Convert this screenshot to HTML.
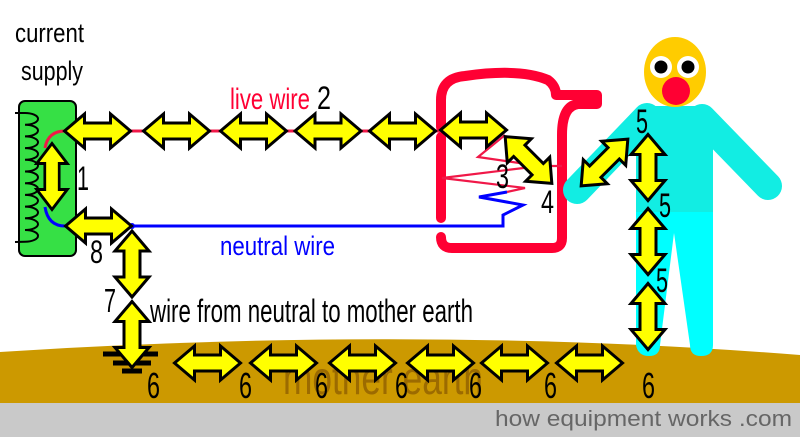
<!DOCTYPE html>
<html>
<head>
<meta charset="utf-8">
<style>
  html, body { margin:0; padding:0; background:#fff; }
  svg { display:block; }
  text { font-family: "Liberation Sans Narrow", "Liberation Sans", sans-serif; }
</style>
</head>
<body>
<svg width="800" height="437" viewBox="0 0 800 437" xmlns="http://www.w3.org/2000/svg">
  <defs>
    <path id="a" d="M-33,0 L-13,-17 L-13,-8 L13,-8 L13,-17 L33,0 L13,17 L13,8 L-13,8 L-13,17 Z" fill="#FFFF00" stroke="#000" stroke-width="3" stroke-linejoin="miter"/>
  </defs>

  <rect x="0" y="0" width="800" height="437" fill="#fff"/>

  <!-- earth -->
  <path d="M0,352 Q420,325 800,355 L800,404 L0,404 Z" fill="#CC9900"/>
  <rect x="0" y="403" width="800" height="34" fill="#C9C9C9"/>
  <text x="283" y="394" font-size="46" fill="#9C6B00" textLength="200" lengthAdjust="spacingAndGlyphs">mother earth</text>
  <text x="495" y="426" font-size="22" fill="#666" style="font-family:'Liberation Sans',sans-serif" textLength="297" lengthAdjust="spacingAndGlyphs">how equipment works .com</text>

  <!-- kettle -->
  <path d="M441,127 L441,100 Q441,78 465,76 Q520,68 548,80 Q556,86 556,95 L597,95 L597,104 L578,104 Q562,106 562,135 L562,238 Q562,248 552,248 L452,248 Q441,248 441,237" fill="none" stroke="#FF0033" stroke-width="10" stroke-linecap="round" stroke-linejoin="round"/>
  <line x1="441" y1="137" x2="441" y2="218" stroke="#FF0033" stroke-width="10" stroke-linecap="round"/>

  <!-- heating element zigzag -->
  <path d="M505,135 L478,157 L540,166 L442,178 L525,188 L507,192" fill="none" stroke="#F01848" stroke-width="2.2"/>
  <line x1="540" y1="166" x2="562" y2="166" stroke="#F01848" stroke-width="2.2"/>
  <path d="M507,192 L479,197 L523,205 L503,215 L503,226 L130,226" fill="none" stroke="#0000FF" stroke-width="3"/>
  <circle cx="132" cy="226" r="3" fill="#0000FF"/>

  <!-- live wire -->
  <line x1="65" y1="131" x2="440" y2="131" stroke="#F01848" stroke-width="3"/>

  <!-- supply box -->
  <rect x="19" y="101" width="57" height="155" rx="6" ry="6" fill="#36E045" stroke="#000" stroke-width="2"/>
  <path d="M15,113 L25,113 a13,5.85 0 0 1 0,11.7 a13,5.85 0 0 1 0,11.7 a13,5.85 0 0 1 0,11.7 a13,5.85 0 0 1 0,11.7 a13,5.85 0 0 1 0,11.7 a13,5.85 0 0 1 0,11.7 a13,5.85 0 0 1 0,11.7 a13,5.85 0 0 1 0,11.7 a13,5.85 0 0 1 0,11.7 a13,5.85 0 0 1 0,11.7 a13,5.85 0 0 1 0,11.7 L15,242" fill="none" stroke="#000" stroke-width="2"/>
  <path d="M45,148 Q48,131 65,131" fill="none" stroke="#F01848" stroke-width="3"/>
  <path d="M45,207 Q48,226 65,226" fill="none" stroke="#0000FF" stroke-width="3"/>

  <!-- person -->
  <line x1="647" y1="117" x2="577" y2="190" stroke="#12EDE3" stroke-width="28" stroke-linecap="round"/>
  <line x1="702" y1="118" x2="768" y2="186" stroke="#12EDE3" stroke-width="28" stroke-linecap="round"/>
  <path d="M636,205 L713,205 L713,345 Q713,356 701,356 Q690,356 690,345 L674,233 L660,345 Q660,356 649,356 Q638,356 636,345 Z" fill="#00FFFF"/>
  <path d="M636,116 Q636,106 646,106 L703,106 Q713,106 713,116 L713,212 L636,212 Z" fill="#12EDE3"/>
  <ellipse cx="675" cy="72" rx="31" ry="35" fill="#FFCC00"/>
  <circle cx="661" cy="67" r="11" fill="#fff"/>
  <circle cx="688" cy="67" r="11" fill="#fff"/>
  <circle cx="661" cy="67" r="6.5" fill="#000"/>
  <circle cx="688" cy="67" r="6.5" fill="#000"/>
  <circle cx="676" cy="91" r="14" fill="#FF0033"/>

  <!-- ground symbol -->
  <rect x="103" y="351.5" width="55" height="5" fill="#000"/>
  <rect x="113" y="360.5" width="38" height="5" fill="#000"/>
  <rect x="122" y="368.5" width="20" height="5" fill="#000"/>

  <!-- arrows: live row -->
  <use href="#a" transform="translate(97.5,131)"/>
  <use href="#a" transform="translate(176.5,131)"/>
  <use href="#a" transform="translate(253.5,131)"/>
  <use href="#a" transform="translate(328,131)"/>
  <use href="#a" transform="translate(402.5,131)"/>
  <use href="#a" transform="translate(473.5,130)"/>
  <!-- diagonals -->
  <use href="#a" transform="translate(528.5,160) rotate(45)"/>
  <use href="#a" transform="translate(604.5,162.5) rotate(-45)"/>
  <!-- body -->
  <use href="#a" transform="translate(648,167.5) rotate(90)"/>
  <use href="#a" transform="translate(648,241.5) rotate(90)"/>
  <use href="#a" transform="translate(648,316.5) rotate(90)"/>
  <!-- supply -->
  <use href="#a" transform="translate(52,176.5) rotate(90) scale(1,0.9)"/>
  <use href="#a" transform="translate(98.5,226)"/>
  <!-- neutral to earth -->
  <use href="#a" transform="translate(132,264) rotate(90)"/>
  <use href="#a" transform="translate(132,334.5) rotate(90)"/>
  <!-- earth -->
  <use href="#a" transform="translate(207.5,363)"/>
  <use href="#a" transform="translate(283.5,363)"/>
  <use href="#a" transform="translate(362.5,363)"/>
  <use href="#a" transform="translate(440.5,363)"/>
  <use href="#a" transform="translate(514.5,363)"/>
  <use href="#a" transform="translate(589.5,363)"/>

  <!-- labels -->
  <text x="15" y="42" font-size="27" fill="#000" textLength="69" lengthAdjust="spacingAndGlyphs">current</text>
  <text x="21" y="80" font-size="27" fill="#000" textLength="62" lengthAdjust="spacingAndGlyphs">supply</text>
  <text x="230" y="109" font-size="30" fill="#FF0033" textLength="80" lengthAdjust="spacingAndGlyphs">live wire</text>
  <text x="317" y="109" font-size="32" fill="#000" textLength="14" lengthAdjust="spacingAndGlyphs">2</text>
  <text x="220" y="255" font-size="27" fill="#0000FF" textLength="115" lengthAdjust="spacingAndGlyphs">neutral wire</text>
  <text x="150" y="322" font-size="32" fill="#000" textLength="323" lengthAdjust="spacingAndGlyphs">wire from neutral to mother earth</text>

  <text x="77" y="190" font-size="34" fill="#000" textLength="12" lengthAdjust="spacingAndGlyphs">1</text>
  <text x="90" y="263" font-size="32" fill="#000" textLength="13" lengthAdjust="spacingAndGlyphs">8</text>
  <text x="104" y="312" font-size="33" fill="#000" textLength="12" lengthAdjust="spacingAndGlyphs">7</text>
  <text x="496" y="188" font-size="34" fill="#000" textLength="13" lengthAdjust="spacingAndGlyphs">3</text>
  <text x="541" y="213" font-size="32" fill="#000" textLength="13" lengthAdjust="spacingAndGlyphs">4</text>
  <text x="636" y="133" font-size="34" fill="#000" textLength="12" lengthAdjust="spacingAndGlyphs">5</text>
  <text x="659" y="217" font-size="34" fill="#000" textLength="12" lengthAdjust="spacingAndGlyphs">5</text>
  <text x="656" y="292" font-size="34" fill="#000" textLength="12" lengthAdjust="spacingAndGlyphs">5</text>

  <text x="147" y="398" font-size="36" fill="#000" textLength="13" lengthAdjust="spacingAndGlyphs">6</text>
  <text x="239" y="398" font-size="36" fill="#000" textLength="13" lengthAdjust="spacingAndGlyphs">6</text>
  <text x="315" y="398" font-size="36" fill="#000" textLength="13" lengthAdjust="spacingAndGlyphs">6</text>
  <text x="395" y="398" font-size="36" fill="#000" textLength="13" lengthAdjust="spacingAndGlyphs">6</text>
  <text x="469" y="398" font-size="36" fill="#000" textLength="13" lengthAdjust="spacingAndGlyphs">6</text>
  <text x="544" y="398" font-size="36" fill="#000" textLength="13" lengthAdjust="spacingAndGlyphs">6</text>
  <text x="642" y="398" font-size="36" fill="#000" textLength="13" lengthAdjust="spacingAndGlyphs">6</text>
</svg>
</body>
</html>
